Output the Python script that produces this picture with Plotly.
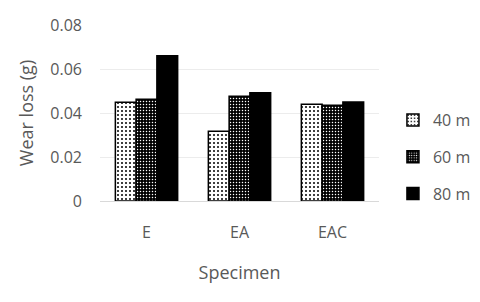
import plotly.graph_objects as go

categories = ["E", "EA", "EAC"]
series_names = ["40 m", "60 m", "80 m"]
values_40 = [0.0449, 0.0317, 0.0440]
values_60 = [0.0462, 0.0476, 0.0435]
values_80 = [0.0660, 0.0492, 0.0450]
y_ticks = [0, 0.02, 0.04, 0.06, 0.08]
y_tick_labels = ["0", "0.02", "0.04", "0.06", "0.08"]

FONT = "Open Sans"
GRAY = "#595959"

fig = go.Figure()
fig.add_trace(go.Bar(
    x=categories, y=values_40, name=series_names[0], legendgroup="a",
    marker=dict(color="white", line=dict(color="black", width=1.5),
                pattern=dict(shape=".", fgcolor="black", bgcolor="white",
                             size=4, solidity=0.2, fillmode="replace")),
))
fig.add_trace(go.Bar(
    x=categories, y=values_60, name=series_names[1], legendgroup="b",
    marker=dict(color="black", line=dict(color="black", width=1.5),
                pattern=dict(shape=".", fgcolor="white", bgcolor="black",
                             size=3, solidity=0.2, fillmode="replace")),
))
fig.add_trace(go.Bar(
    x=categories, y=values_80, name=series_names[2], legendgroup="c",
    marker=dict(color="black", line=dict(color="black", width=1.5)),
))

# page body has an 8px margin, so offsets compensate for it
fig.update_layout(
    width=480, height=302,
    margin=dict(l=92, r=101, t=17, b=109),
    paper_bgcolor="white", plot_bgcolor="white",
    font=dict(family=FONT, color=GRAY, size=16),
    barmode="group", bargap=0.33, bargroupgap=0,
    showlegend=True,
    legend=dict(x=1.05, y=0.25, xanchor="left", yanchor="middle",
                font=dict(family=FONT, size=16, color=GRAY),
                tracegroupgap=13, bgcolor="rgba(0,0,0,0)"),
)
fig.update_xaxes(
    showgrid=False, showline=True, linecolor="#d9d9d9", linewidth=1,
    ticks="", ticklabelstandoff=17,
    tickfont=dict(family=FONT, size=16, color=GRAY),
    title=dict(text="Specimen", font=dict(family=FONT, size=18, color=GRAY), standoff=24),
    automargin=False,
)
fig.update_yaxes(
    range=[0, 0.08], tickvals=y_ticks, ticktext=y_tick_labels,
    showgrid=True, gridcolor="#ececec", gridwidth=1,
    zeroline=False, showline=False, ticks="", ticklabelstandoff=17,
    tickfont=dict(family=FONT, size=16, color=GRAY),
    title=dict(text="Wear loss (g)", font=dict(family=FONT, size=18, color=GRAY), standoff=12),
    automargin=False,
)

fig.write_html("out.html")
